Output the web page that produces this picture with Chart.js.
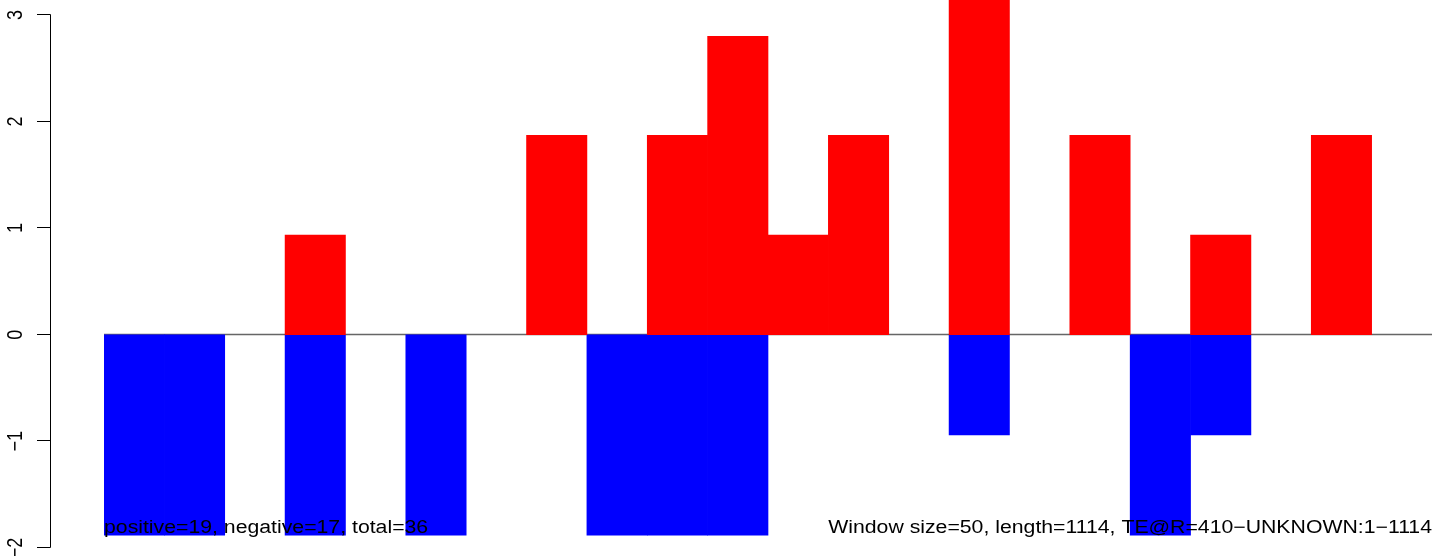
<!DOCTYPE html>
<html>
<head>
<meta charset="utf-8">
<script src="https://cdn.jsdelivr.net/npm/chart.js@4/dist/chart.umd.min.js"></script>
<style>
html,body{margin:0;padding:0;background:#fff;}
#wrap{width:1444px;height:556px;position:relative;}
canvas{display:block;}
</style>
</head>
<body>
<div id="wrap"><canvas id="c" width="1444" height="556"></canvas></div>
<script>
// window start positions (window size 50, length 1114)
const windowStarts = ["1","51","101","151","201","251","301","351","401","451","501","551","601","651","701","751","801","851","901","951","1001","1051"];
const positiveValues = [null,null,null,0.935,null,null,null,1.87,null,1.87,2.80,0.935,1.87,null,3.74,null,1.87,null,0.935,null,1.87,null];
const negativeValues = [-1.88,-1.88,null,-1.88,null,-1.88,null,null,-1.88,-1.88,-1.88,null,null,null,-0.94,null,null,-1.88,-0.94,null,null,null];
const yTickValues = [-2,-1,0,1,2,3];
const yTickLabels = ["\u22122","\u22121","0","1","2","3"];
const leftNote = "positive=19, negative=17, total=36";
const rightNote = "Window size=50, length=1114, TE@R=410\u2212UNKNOWN:1\u22121114";

const FONT = '18px "Liberation Sans", Arial, Helvetica, sans-serif';
const SX = 1.18; // horizontal stretch of the original raster

const rAxisPlugin = {
  id: 'rAxis',
  beforeDatasetsDraw(chart) {
    const ctx = chart.ctx, y = chart.scales.y, a = chart.chartArea;
    const y0 = Math.round(y.getPixelForValue(0)) - 0.5;
    ctx.save();
    ctx.strokeStyle = '#666';
    ctx.lineWidth = 1.3;
    ctx.beginPath();
    ctx.moveTo(a.left, y0);
    ctx.lineTo(a.right, y0);
    ctx.stroke();
    ctx.restore();
  },
  afterDraw(chart) {
    const ctx = chart.ctx, y = chart.scales.y;
    const axisX = 50.5;
    ctx.save();
    ctx.strokeStyle = '#000';
    ctx.lineWidth = 1;
    const top = Math.round(y.getPixelForValue(yTickValues[yTickValues.length-1])) - 0.5;
    const bot = Math.round(y.getPixelForValue(yTickValues[0])) - 0.5;
    ctx.beginPath();
    ctx.moveTo(axisX, top);
    ctx.lineTo(axisX, bot);
    yTickValues.forEach(v => {
      const py = Math.round(y.getPixelForValue(v)) - 0.5;
      ctx.moveTo(axisX, py);
      ctx.lineTo(37, py);
    });
    ctx.stroke();
    ctx.fillStyle = '#000';
    ctx.font = FONT;
    ctx.textAlign = 'center';
    ctx.textBaseline = 'alphabetic';
    yTickValues.forEach((v, i) => {
      const py = y.getPixelForValue(v);
      ctx.save();
      ctx.translate(21.5, py);
      ctx.scale(SX, 1);
      ctx.rotate(-Math.PI / 2);
      ctx.fillText(yTickLabels[i], 0, 0);
      ctx.restore();
    });
    // notes
    const a = chart.chartArea;
    ctx.save();
    ctx.translate(a.left, 533);
    ctx.scale(SX, 1);
    ctx.textAlign = 'left';
    ctx.fillText(leftNote, 0, 0);
    ctx.restore();
    ctx.save();
    ctx.translate(a.right, 533);
    ctx.scale(SX, 1);
    ctx.textAlign = 'right';
    ctx.fillText(rightNote, 0, 0);
    ctx.restore();
    ctx.restore();
  }
};

new Chart(document.getElementById('c'), {
  type: 'bar',
  data: {
    labels: windowStarts,
    datasets: [
      { label: 'positive', data: positiveValues, backgroundColor: '#ff0000', borderWidth: 0, barPercentage: 1, categoryPercentage: 1 },
      { label: 'negative', data: negativeValues, backgroundColor: '#0000ff', borderWidth: 0, barPercentage: 1, categoryPercentage: 1 }
    ]
  },
  options: {
    responsive: false,
    animation: false,
    events: [],
    layout: { padding: { left: 104, right: 12, top: 0, bottom: 0 } },
    plugins: { legend: { display: false }, tooltip: { enabled: false }, title: { display: false } },
    scales: {
      x: { display: false, stacked: true, grid: { display: false } },
      y: { display: false, stacked: true, min: -2.076, max: 3.140, grid: { display: false } }
    }
  },
  plugins: [rAxisPlugin]
});
</script>
</body>
</html>
